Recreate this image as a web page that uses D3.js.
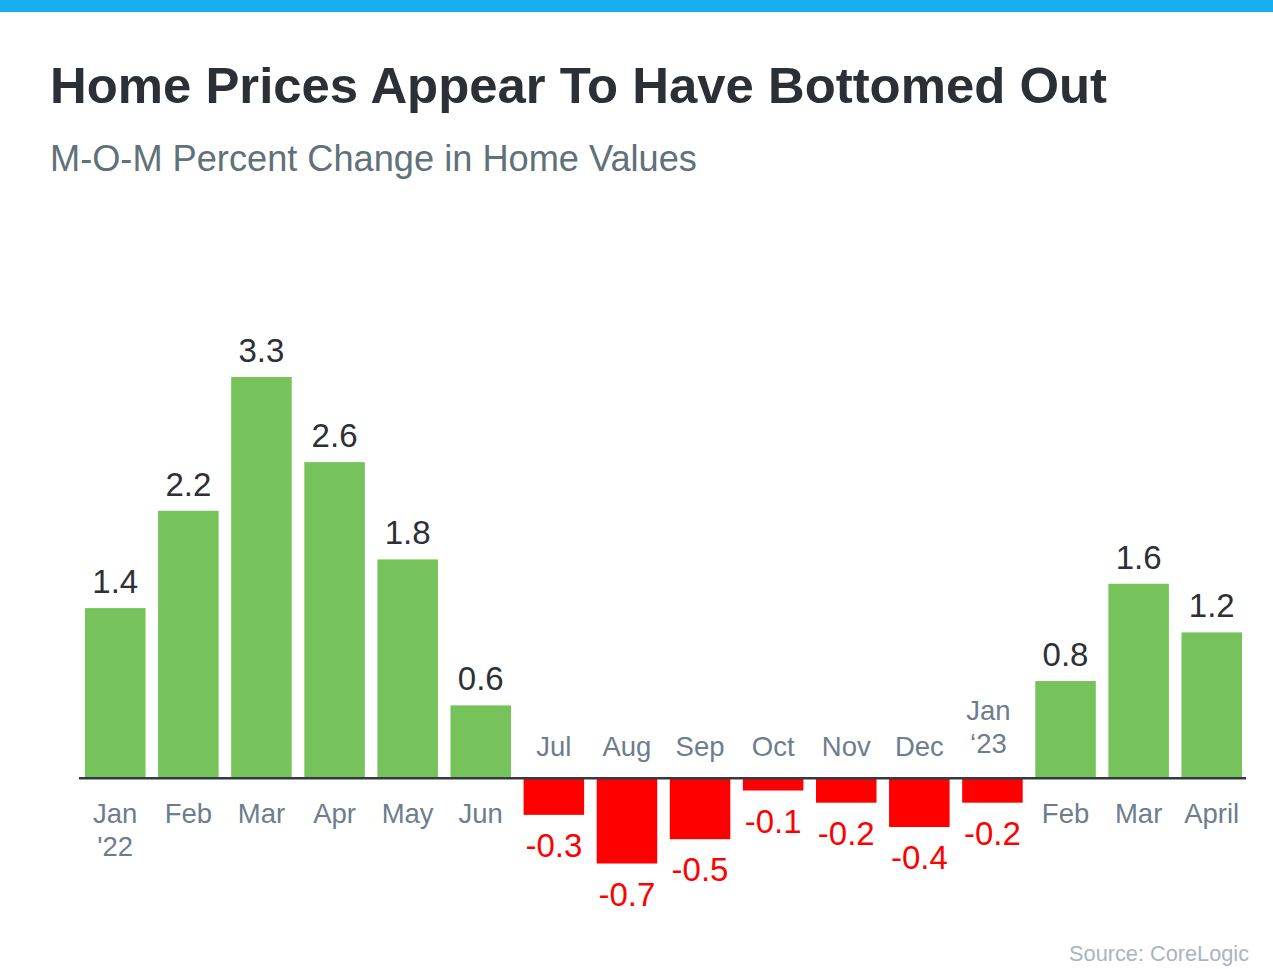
<!DOCTYPE html>
<html>
<head>
<meta charset="utf-8">
<script src="https://cdn.jsdelivr.net/npm/d3@7"></script>
<style>
	body { margin: 0; background: #fff; }
	svg { display: block; font-family: "Liberation Sans", Arial, Helvetica, sans-serif; }
</style>
</head>
<body>
<svg id="chart" width="1273" height="969"></svg>
<script>
const months = ['Jan', 'Feb', 'Mar', 'Apr', 'May', 'Jun', 'Jul', 'Aug', 'Sep', 'Oct', 'Nov', 'Dec', 'Jan', 'Feb', 'Mar', 'April']
const years = ['\'22', '', '', '', '', '', '', '', '', '', '', '', '\u201823', '', '', '']
const values = [1.4, 2.2, 3.3, 2.6, 1.8, 0.6, -0.3, -0.7, -0.5, -0.1, -0.2, -0.4, -0.2, 0.8, 1.6, 1.2]

const title = 'Home Prices Appear To Have Bottomed Out'
const subtitle = 'M-O-M Percent Change in Home Values'
const source = 'Source: CoreLogic'

const W = 1273
const H = 969
const green = '#75c35a'
const red = '#ff0000'

const svg = d3.select('#chart')

// blue strip on top
svg.append('rect')
	.attr('x', 0).attr('y', 0)
	.attr('width', W).attr('height', 12)
	.attr('fill', '#19aeef')

const titleText = svg.append('text')
	.attr('x', 50).attr('y', 103)
	.attr('font-size', 47)
	.attr('font-weight', 'bold')
	.attr('fill', '#2b2f36')
	.text(title)
fitWidth(titleText, 1057)

const subText = svg.append('text')
	.attr('x', 50).attr('y', 171)
	.attr('font-size', 32)
	.attr('fill', '#5f7179')
	.text(subtitle)
fitWidth(subText, 647)

const srcText = svg.append('text')
	.attr('x', 1249).attr('y', 961)
	.attr('text-anchor', 'end')
	.attr('font-size', 21)
	.attr('fill', '#aab4bd')
	.text(source)
fitWidth(srcText, 180)

const data = months.map((m, i) => ({ i: i, month: m, year: years[i], value: values[i] }))

const x = d3.scaleBand()
	.domain(data.map(d => d.i))
	.range([85, 1242])
	.paddingInner(0.172)
	.paddingOuter(0)

const y = d3.scaleLinear()
	.domain([-0.7, 3.3])
	.range([863.5, 377])

const y0 = y(0)

svg.append('g').selectAll('rect')
	.data(data)
	.enter().append('rect')
		.attr('x', d => x(d.i))
		.attr('width', x.bandwidth())
		.attr('y', d => Math.min(y(d.value), y0))
		.attr('height', d => Math.abs(y(d.value) - y0))
		.attr('fill', d => d.value >= 0 ? green : red)

// baseline
svg.append('line')
	.attr('x1', 79).attr('x2', 1246)
	.attr('y1', y0).attr('y2', y0)
	.attr('stroke', '#333a40')
	.attr('stroke-width', 2.5)

// value labels
svg.append('g').selectAll('text')
	.data(data)
	.enter().append('text')
		.attr('x', d => x(d.i) + x.bandwidth() / 2)
		.attr('y', d => d.value >= 0 ? y(d.value) - 15 : y(d.value) + 42)
		.attr('text-anchor', 'middle')
		.attr('font-size', 33)
		.attr('fill', d => d.value >= 0 ? '#2d3035' : red)
		.text(d => d.value.toFixed(1))

// month labels: below the axis for gains, above for losses
const cats = svg.append('g').selectAll('text')
	.data(data)
	.enter().append('text')
		.attr('x', d => x(d.i) + x.bandwidth() / 2 - (d.value < 0 && d.year ? 4 : 0))
		.attr('y', d => {
			if (d.value >= 0) return y0 + 45
			return d.year ? y0 - 58 : y0 - 22
		})
		.attr('text-anchor', 'middle')
		.attr('font-size', 27.5)
		.attr('fill', '#6d7d8e')

cats.append('tspan')
	.text(d => d.month)
cats.filter(d => d.year).append('tspan')
	.attr('x', d => x(d.i) + x.bandwidth() / 2 - (d.value < 0 ? 4 : 0))
	.attr('dy', 33)
	.text(d => d.year)

function fitWidth(sel, target) {
	const w = sel.node().getComputedTextLength()
	const fs = +sel.attr('font-size')
	sel.attr('font-size', fs * target / w)
}
</script>
</body>
</html>
